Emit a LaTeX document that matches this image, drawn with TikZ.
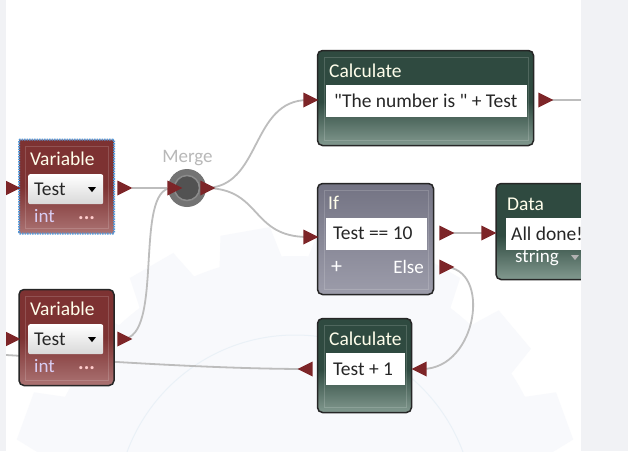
\documentclass[tikz,border=0pt]{standalone}
\usepackage{fontspec}
\setmainfont{Carlito}[Ligatures=TeXOff]
\usepackage{xcolor}
\usetikzlibrary{shapes.geometric}
\usetikzlibrary{backgrounds}

\definecolor{pagegrey}{HTML}{F1F2F5}
\definecolor{gearpale}{HTML}{F8F9FC}
\definecolor{gearedge}{HTML}{EAF1F7}
\definecolor{wiregrey}{HTML}{BDBDBD}
\definecolor{porttop}{HTML}{7D2528}
\definecolor{redtop}{HTML}{7D3232}
\definecolor{redend}{HTML}{AB7373}
\definecolor{greentop}{HTML}{2F4A40}
\definecolor{greenend}{HTML}{82998F}
\definecolor{greytop}{HTML}{5F5F70}
\definecolor{greyend}{HTML}{9C9CAA}

\pgfdeclareverticalshading{redblock}{100bp}{color(0bp)=(redend); color(25bp)=(redend); color(50bp)=(redtop); color(100bp)=(redtop)}
\pgfdeclareverticalshading{greenblock}{100bp}{color(0bp)=(greenend); color(25bp)=(greenend); color(48bp)=(greentop); color(100bp)=(greentop)}
\pgfdeclareverticalshading{greyblock}{100bp}{color(0bp)=(greyend); color(25bp)=(greyend); color(100bp)=(greytop)}

\tikzset{
    block/.style={draw=black!85, line width=1.5pt, rounded corners=5pt, anchor=north west, inner sep=0pt, outer sep=0pt},
    redbox/.style={block, shading=redblock},
    greenbox/.style={block, shading=greenblock},
    greybox/.style={block, shading=greyblock},
    inframe/.style={draw=white, draw opacity=0.16, line width=1pt, anchor=north west, inner sep=0pt},
    title/.style={anchor=west, text=white!92!yellow, font=\fontsize{19.5}{22}\selectfont, inner sep=0pt},
    value/.style={fill=white, anchor=north west, inner sep=0pt},
    exprtext/.style={anchor=west, inner sep=0pt, text=black!85, font=\fontsize{19.5}{22}\selectfont},
    combo/.style={anchor=north west, rounded corners=2pt, top color=white, bottom color=black!15, inner sep=0pt},
    foot/.style={anchor=west, inner sep=0pt, font=\fontsize{19}{22}\selectfont},
    dots/.style={anchor=west, inner sep=0pt, text=white!80!red, font=\fontsize{21}{22}\selectfont\bfseries},
    porttip/.style={isosceles triangle, isosceles triangle stretches, fill=porttop, minimum width=15pt, minimum height=15pt, inner sep=0pt, outer sep=0pt},
    portback/.style={porttip, shape border rotate=180},
    droptip/.style={isosceles triangle, isosceles triangle stretches, fill=black, shape border rotate=270, minimum width=8pt, minimum height=5pt, inner sep=0pt},
    wire/.style={draw=wiregrey, line width=1.8pt},
}

\begin{document}
\begin{tikzpicture}[x=1pt, y=-1pt]
\useasboundingbox (0,0) rectangle (628,451);

\begin{pgfonlayer}{background}
    \fill[white] (0,0) rectangle (628,451);
    \begin{scope}
        \clip (6,0) rectangle (581,451);
        \begin{scope}[shift={(295,514)}]
            \foreach \a in {0,20,...,340}
                \fill[gearpale] (\a-7:258) -- (\a-5:288) -- (\a+5:288) -- (\a+7:258) -- cycle;
            \fill[gearpale] (0,0) circle (258);
            \draw[gearedge, line width=1pt] (0,0) circle (179);
        \end{scope}
    \end{scope}
\end{pgfonlayer}

% top left variable
\node[redbox, minimum width=95pt, minimum height=94pt, draw=cyan!60!blue!70, densely dotted, line width=2pt, rounded corners=1pt] (varone) at (19,139.5) {};
\node[inframe, minimum width=83pt, minimum height=82pt] (varoneframe) at (25,145.5) {};
\node[title] (varonetitle) at (30,159) {Variable};
\node[combo, minimum width=75pt, minimum height=30pt] (varonecombo) at (28,174) {};
\node[exprtext] (varonetext) at (34,189) {Test};
\node[droptip] (varonedrop) at (92,189) {};
\node[foot, text=red!25!blue!20!white] (varonetype) at (34,216) {int};
\node[dots] (varonedots) at (78,218) {...};

% bottom left variable
\node[redbox, minimum width=95pt, minimum height=96pt] (vartwo) at (19,289.5) {};
\node[inframe, minimum width=83pt, minimum height=84pt] (vartwoframe) at (25,295.5) {};
\node[title] (vartwotitle) at (30,309) {Variable};
\node[combo, minimum width=75pt, minimum height=30pt] (vartwocombo) at (28,324) {};
\node[exprtext] (vartwotext) at (34,339) {Test};
\node[droptip] (vartwodrop) at (92,339) {};
\node[foot, text=red!25!blue!20!white] (vartwotype) at (34,366) {int};
\node[dots] (vartwodots) at (78,368) {...};

% merge
\node[circle, fill=black!55, minimum size=38pt, inner sep=0pt] (merge) at (187,188) {};
\node[circle, fill=black!68, draw=black!45, line width=1.5pt, minimum size=25pt, inner sep=0pt] (mergecore) at (187,188) {};
\node[text=black!28, font=\fontsize{19}{22}\selectfont] (mergelabel) at (187.5,158) {Merge};

% upper calculate
\node[greenbox, minimum width=216pt, minimum height=95pt] (calcone) at (317.5,50.5) {};
\node[inframe, minimum width=204pt, minimum height=83pt] (calconeframe) at (323.5,56.5) {};
\node[title] (calconetitle) at (329,71) {Calculate};
\node[value, minimum width=201pt, minimum height=32pt] (calconeexpr) at (325.5,85) {};
\node[exprtext] (calconetext) at (334,101) {"The number is " + Test};

% if
\node[greybox, minimum width=116pt, minimum height=111pt] (ifblock) at (317.5,183.5) {};
\node[inframe, minimum width=104pt, minimum height=99pt] (ifframe) at (323.5,189.5) {};
\node[title] (iftitle) at (328,203) {If};
\node[value, minimum width=101pt, minimum height=32pt] (ifexpr) at (325.5,217.5) {};
\node[exprtext] (iftext) at (333,233.5) {Test == 10};
\node[foot, text=white!70, font=\fontsize{22}{22}\selectfont] (ifplus) at (331,267) {+};
\node[foot, text=white!85, anchor=east] (ifelse) at (424,267) {Else};

% data, runs off the canvas
\node[greenbox, minimum width=110pt, minimum height=96pt] (datablock) at (496,183.5) {};
\node[title] (datatitle) at (507,204) {Data};
\node[value, minimum width=90pt, minimum height=32pt] (datavalue) at (505.5,217.5) {};
\node[exprtext] (datatext) at (511,233.5) {All done!};
\node[foot, text=white!90] (datatype) at (515,258) {string};
\node[droptip, fill=white!70!black] (datadrop) at (575,257) {};

% lower calculate
\node[greenbox, minimum width=94pt, minimum height=94pt] (calctwo) at (317.5,318.5) {};
\node[inframe, minimum width=82pt, minimum height=82pt] (calctwoframe) at (323.5,324.5) {};
\node[title] (calctwotitle) at (329,339) {Calculate};
\node[value, minimum width=79pt, minimum height=32pt] (calctwoexpr) at (325.5,353) {};
\node[exprtext] (calctwotext) at (333,369) {Test + 1};

% ports
\node[porttip] (varonein) at (10,188) {};
\node[porttip] (varoneout) at (122,188) {};
\node[porttip] (mergein) at (172,188) {};
\node[porttip] (mergeout) at (205,188) {};
\node[porttip] (vartwoin) at (10,339) {};
\node[porttip] (vartwoout) at (122,339) {};
\node[porttip] (calconein) at (308,100) {};
\node[porttip] (calconeout) at (543,100) {};
\node[porttip] (ifin) at (308,237) {};
\node[porttip] (ifout) at (444,233) {};
\node[porttip] (datain) at (486,233) {};
\node[porttip] (ifalt) at (444,267) {};
\node[portback] (calctwoout) at (308,369) {};
\node[portback] (calctwoin) at (422,369) {};
\coordinate (wireend) at (581,100);
\coordinate (wirestart) at (6,355);

\begin{pgfonlayer}{background}
    \draw[wire] (varoneout) -- (mergein);
    \draw[wire] (vartwoout.center) .. controls (165,339) and (133,188) .. (mergein.center);
    \draw[wire] (mergeout.center) .. controls (262,188) and (250,100) .. (calconein.center);
    \draw[wire] (mergeout.center) .. controls (262,188) and (250,237) .. (ifin.center);
    \draw[wire] (calconeout.center) -- (wireend);
    \draw[wire] (ifout.center) -- (datain.center);
    \draw[wire] (ifalt.center) .. controls (492,267) and (478,369) .. (calctwoin.center);
    \draw[wire] (wirestart) .. controls (60,358) and (200,369) .. (calctwoout.center);
\end{pgfonlayer}

% page either side of the canvas
\fill[pagegrey] (0,0) rectangle (6,451);
\fill[pagegrey] (581,0) rectangle (628,451);
\end{tikzpicture}
\end{document}
